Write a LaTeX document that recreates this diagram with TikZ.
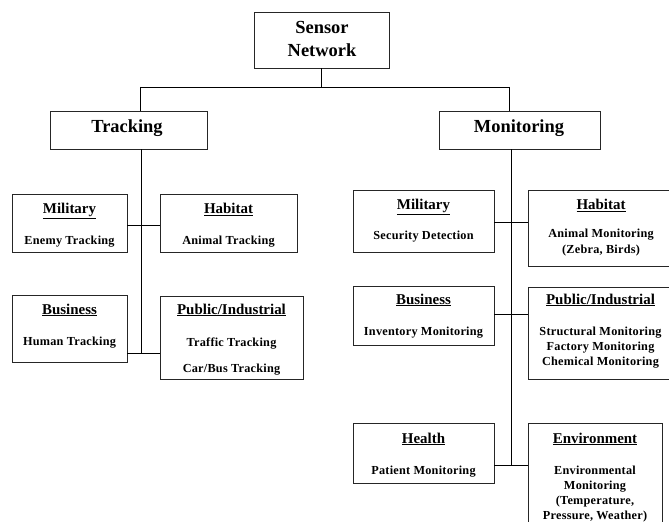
\documentclass[tikz,border=0pt]{standalone}
\usepackage{fontspec}
\setmainfont{Liberation Serif}
\newfontfamily\bodyfont[LetterSpace=2]{Liberation Serif}
\usetikzlibrary{fit}
\tikzset{
  box/.style={draw=black!85, line width=0.9bp, inner sep=0pt, rectangle},
  conn/.style={draw=black, line width=0.9bp},
  big/.style={anchor=base, font=\bfseries\fontsize{18.5}{22}\selectfont, inner sep=0pt},
  ttl/.style={anchor=base, font=\bfseries\fontsize{15}{18}\selectfont, inner sep=0pt},
  txt/.style={anchor=base, font=\bodyfont\bfseries\fontsize{12.3}{15}\selectfont, inner sep=0pt},
}
\newcommand{\ul}[1]{\underline{#1}}
\begin{document}
\begin{tikzpicture}[x=1bp, y={(0bp,-1bp)}]
\useasboundingbox (0,0) rectangle (669,522);
\clip (0,0) rectangle (669,522);
% top level
\node[box, fit={(254,12) (389,68)}] (sn) {};
\node[big] (snt1) at (322,34) {Sensor};
\node[big] (snt2) at (322,57) {Network};
\node[box, fit={(50,111) (207,149)}] (tr) {};
\node[big] (trt) at (127,133) {Tracking};
\node[box, fit={(439,111) (600,149)}] (mo) {};
\node[big] (mot) at (519,133) {Monitoring};
\coordinate (j0) at (321,87);
\coordinate (jl) at (140,87);
\coordinate (jr) at (509,87);
\draw[conn] (sn.south -| j0) -- (j0);
\draw[conn] (jl) -- (jr);
\draw[conn] (jl) -- (tr.north -| jl);
\draw[conn] (jr) -- (mo.north -| jr);

% tracking children
\node[box, fit={(12,194) (127,252)}] (tmil) {};
\node[ttl] (tmil1) at (69.5,214) {\ul{Military}};
\node[txt] (tmil2) at (69.5,245) {Enemy Tracking};
\node[box, fit={(160,194) (297,252)}] (thab) {};
\node[ttl] (thab1) at (228.5,214) {\ul{Habitat}};
\node[txt] (thab2) at (228.5,245) {Animal Tracking};
\node[box, fit={(12,295) (127,362)}] (tbus) {};
\node[ttl] (tbus1) at (69.5,314) {\ul{Business}};
\node[txt] (tbus2) at (69.5,345) {Human Tracking};
\node[box, fit={(160,296) (303,379)}] (tpub) {};
\node[ttl] (tpub1) at (231.5,314) {\ul{Public/Industrial}};
\node[txt] (tpub2) at (231.5,346) {Traffic Tracking};
\node[txt] (tpub3) at (231.5,372) {Car/Bus Tracking};
\coordinate (tv1) at (141,225);
\coordinate (tv2) at (141,353);
\draw[conn] (tr.south -| tv1) -- (tv2);
\draw[conn] (tmil.east |- tv1) -- (thab.west |- tv1);
\draw[conn] (tbus.east |- tv2) -- (tpub.west |- tv2);

% monitoring children
\node[box, fit={(353,190) (494,252)}] (mmil) {};
\node[ttl] (mmil1) at (423.5,210) {\ul{Military}};
\node[txt] (mmil2) at (423.5,240) {Security Detection};
\node[box, fit={(528,190) (674,266)}] (mhab) {};
\node[ttl] (mhab1) at (601,210) {\ul{Habitat}};
\node[txt] (mhab2) at (601,238) {Animal Monitoring};
\node[txt] (mhab3) at (601,254) {(Zebra, Birds)};
\node[box, fit={(353,286) (494,345)}] (mbus) {};
\node[ttl] (mbus1) at (423.5,304) {\ul{Business}};
\node[txt] (mbus2) at (423.5,335) {Inventory Monitoring};
\node[box, fit={(528,287) (674,379)}] (mpub) {};
\node[ttl] (mpub1) at (600.5,304) {\ul{Public/Industrial}};
\node[txt] (mpub2) at (600.5,335) {Structural Monitoring};
\node[txt] (mpub3) at (600.5,350) {Factory Monitoring};
\node[txt] (mpub4) at (600.5,365) {Chemical Monitoring};
\node[box, fit={(353,423) (494,483)}] (mhea) {};
\node[ttl] (mhea1) at (423.5,443) {\ul{Health}};
\node[txt] (mhea2) at (423.5,474) {Patient Monitoring};
\node[box, fit={(528,423) (662,530)}] (menv) {};
\node[ttl] (menv1) at (595,443) {\ul{Environment}};
\node[txt] (menv2) at (595,474) {Environmental};
\node[txt] (menv3) at (595,489) {Monitoring};
\node[txt] (menv4) at (595,504) {(Temperature,};
\node[txt] (menv5) at (595,519) {Pressure, Weather)};
\coordinate (mv1) at (511,222);
\coordinate (mv2) at (511,314);
\coordinate (mv3) at (511,465);
\draw[conn] (mo.south -| mv1) -- (mv3);
\draw[conn] (mmil.east |- mv1) -- (mhab.west |- mv1);
\draw[conn] (mbus.east |- mv2) -- (mpub.west |- mv2);
\draw[conn] (mhea.east |- mv3) -- (menv.west |- mv3);
\end{tikzpicture}
\end{document}
